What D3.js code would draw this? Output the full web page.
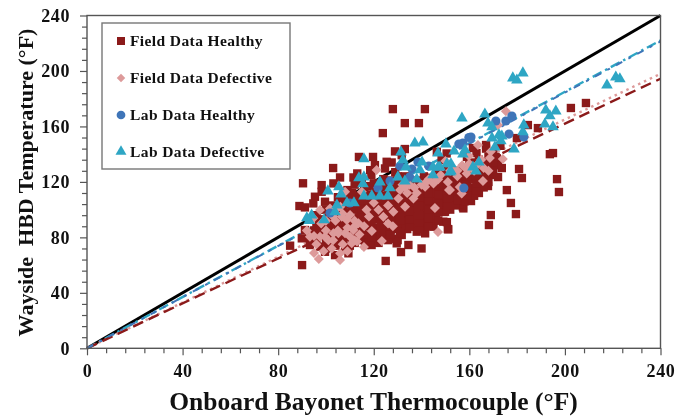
<!DOCTYPE html>
<html><head><meta charset="utf-8">
<script src="https://cdn.jsdelivr.net/npm/d3@7"></script>
<style>
html,body{margin:0;padding:0;background:#fff}
svg{display:block;filter:blur(0.35px)}
text{font-family:"Liberation Serif","Times New Roman",serif;font-weight:bold;fill:#111}
</style></head><body>
<svg id="c" width="694" height="417"></svg>
<script>
const majorTicks=[0,40,80,120,160,200,240];
const minorTicks=[8,16,24,32,48,56,64,72,88,96,104,112,128,136,144,152,168,176,184,192,208,216,224,232];
const xTitle="Onboard Bayonet Thermocouple (°F)";
const yTitle="Wayside\u00a0 HBD Temperature (°F)";
const legendNames=["Field Data Healthy","Field Data Defective","Lab Data Healthy","Lab Data Defective"];
const slopes=[1,0.925,0.825,0.81];
const fieldHealthy=[[202.5,173.3],[208.8,176.9],[184.5,161],[188.7,158.8],[179.9,151.6],[193.7,140],[195,140.8],[180.8,129.3],[182,122.8],[196.7,122],[197.5,112.7],[175.7,114.1],[177.4,104.8],[179.5,96.8],[169,96.1],[168.2,88.9],[173.6,130],
[128,172.5],[141.4,172.5],[133,162.4],[138.9,162.4],[123.8,155.2],[90.4,119],[103,130],[90,60],[125,63],[131.4,69.4],[140,72],[113.8,138],[119.7,138],[133,143.7],[128.9,142],
[98.2,117.7],[98.2,112.9],[105.9,123.2],[103.1,118.9],[111.5,123.2],[113.1,126.1],[109,114.1],[95.4,109.3],[94.7,104.5],[88.9,102.6],[91.2,101.6],[99.6,105.7],[118.5,128.5],[120.5,132.1],[124.7,129.7],[127.5,134],[125.4,134.5],[131.7,139.3],[146.4,141.7],[150.5,140.5],[148.4,135.7],[85,74],
[97.5,73.3],[99.6,69.6],[103.8,67.2],[109.4,68.5],[116.4,74.5],[119.1,74.5],[129.6,75.7],[134.5,74.5],[131.7,81.7],[136.6,87.7],[138,84.1],[141.5,82.9],[149.8,98.5],[149.1,91.3],[151.2,85.8],[157.5,100.9],[145,87.7],[89.9,79.3],[91.2,85.3],[93.3,74.5],
[161.5,144.4],[167,146.6],[163,140.8],[171.5,137],[168.6,125],[172,123.5],[167.8,117],[160.7,106.2],[157.3,101.9],[159.4,112],[152.7,104.8],[149.4,98.3],[150.6,91],[151,86],
[96,78],[95,85],[97,90],[96,96],[100,76],[101,83],[99,88],[101,94],[100,100],[104,74],[105,80],[103,85],[105,91],[104,97],[103,103],[105,109],
[108,72],[107,78],[109,84],[108,90],[109,96],[107,102],[108,108],[112,76],[113,83],[111,88],[113,94],[112,100],[113,106],[111,112],[112,118],
[116,79],[115,85],[117,91],[116,97],[115,103],[117,109],[116,115],[115,121],[120,78],[121,83],[119,89],[121,95],[120,101],[119,107],[121,113],[120,119],[119,125],
[124,80],[125,86],[123,92],[125,98],[124,104],[123,110],[125,116],[124,122],[128,79],[127,85],[129,91],[128,97],[127,103],[129,109],[128,115],[127,121],[129,127],
[132,88],[133,94],[131,100],[133,106],[132,112],[131,118],[133,124],[136,90],[135,96],[137,102],[136,108],[135,114],[137,120],
[140,88],[141,94],[139,100],[141,106],[140,112],[139,118],[141,124],[144,92],[145,98],[143,104],[145,110],[144,116],[143,122],
[148,102],[147,108],[149,114],[148,120],[147,126],[152,100],[153,106],[151,112],[153,118],[152,124],[151,130],[156,104],[155,110],[157,116],[156,122],[155,128],
[160,108],[161,114],[159,120],[161,126],[160,132],[159,138],[164,112],[165,118],[163,124],[165,130],[164,136],[168,120],[167,126],[169,132],[168,138],[167,144],[172,132],[171,138],[173,146],
[126,84],[118,93],[122,87],[114,80],[110,80],[106,87],[134,98],[138,106],[146,118],[150,120],[154,126],[158,124],[162,130],[166,134],[130,96],[142,108],
[98,81],[98,87],[98,93],[102,79],[102,86],[102,91],[102,98],[106,76],[106,83],[106,94],[106,100],[106,105],[110,74],[110,84],[110,91],[110,98],[110,104],[110,110],
[114,78],[114,86],[114,91],[114,98],[114,103],[114,110],[118,76],[118,82],[118,88],[118,98],[118,104],[118,111],[118,117],[122,76],[122,81],[122,93],[122,98],[122,105],[122,111],[122,116],
[126,78],[126,81],[126,95],[126,100],[126,106],[126,112],[126,118],[130,78],[130,86],[130,90],[130,101],[130,106],[130,112],[130,118],[130,124],
[134,86],[134,92],[134,103],[134,109],[134,115],[134,121],[138,92],[138,97],[138,101],[138,111],[138,116],[138,121],[142,90],[142,96],[142,102],[142,113],[142,118],[142,123],
[146,96],[146,101],[146,106],[146,112],[146,122],[150,100],[150,105],[150,110],[150,116],[150,125],[154,103],[154,109],[154,114],[154,120],[158,106],[158,112],[158,118],[158,129],[162,110],[162,116],[162,122],[162,134],[166,116],[166,122],[166,128],[170,128],[170,134],[170,142],
[100,72],[103,76],[107,81],[107,88],[111,78],[111,85],[111,93],[111,103],[115,82],[115,89],[115,95],[115,100],[115,107],[119,80],[119,85],[119,92],[119,99],[119,105],[119,110],[123,79],[123,84],[123,89],[123,96],[123,102],[123,107],[127,82],[127,88],[127,94],[127,100],[127,106],[127,112],[131,83],[131,92],[131,97],[131,103],[131,109],[131,115],[135,88],[135,93],[135,99],[135,105],[135,111],[135,117],[139,86],[139,91],[139,96],[139,103],[139,109],[139,114],[143,88],[143,94],[143,100],[143,107],[143,112],[147,92],[147,98],[147,104],[147,111],[147,117],[151,103],[151,108],[151,115],[151,121],[155,107],[155,113],[155,119],[155,125],[159,110],[159,116],[159,124],[163,114],[163,119],[163,128],[104,88],[100,90],[96,87],[93,80],[104,82]];
const fieldDefective=[[175.3,171],[97,64.4],[105.9,63.7],[95,68.7],[115.9,73],[123.4,77.4],[146.9,83.9],[145.6,101.2],[119.2,84.6],
[93.3,80.5],[97.5,80.5],[99.6,80.5],[103.1,82.9],[105.2,82.9],[102.4,72],[105.9,68.5],[110.8,75.7],[110.1,80.5],[111.5,85.3],[113.6,90.1],[108.7,92.5],[106.6,94.9],[110.1,96.1],[101.7,100.9],[97.5,99.7],[94.7,93.7],[124,94.9],[128.2,98.5],[133.1,102.1],[136.6,108.1],[131,114.1],[130.3,108.1],[141.5,116.5],[145,118.9],[151.9,114.1],[158.9,126.1],[156.8,111.7],[121.2,128.5],[108,112.9],[115,112.9],
[163.6,146.6],[168.6,137.2],[174,136.5],[159.8,138.7],[165.7,120.6],[156,116.3],[151.5,114.1],[172,161],[151,120],
[100,85],[104,92],[107,75],[114,82],[116,88],[118,95],[122,100],[126,90],[128,88],[120,105],[135,118],[138,112],[143,122],[148,125],[153,130],[150,135],[155,128],[160,133],[162,128],[96,75],[99,70],[101,78],[109,70],[112,78],[92,85],
[98,90],[103,95],[106,102],[100,92],[112,92],[109,87],[113,77],[117,100],[132,118],[134,112],[140,118],[147,122],[152,128],[157,132],[165,136],[169,142],[163,132],[168,128],
[95,81],[105,85],[103,78],[108,83],[112,88],[107,97],[104,100],[126,103],[133,116],[137,116],[142,120],[146,121],[155,124],[159,129],[166,130]];
const labHealthy=[[171.1,163.9],[175.3,163.9],[177.8,167.5],[176.6,154.5],[182.8,152.3],[160.7,152.3],[155.6,147.3],[157.3,148],[157.7,115.6],[159.8,152],[131,131.4],[136,129.3],[138.5,134.3],[143,131.4],[135,123.5],[126.8,120.6],[121.8,115.6],[110,104.8],[101.7,97.6]];
const labDefective=[[178.2,194.9],[179.9,193.4],[182.4,198.5],[217.6,189.8],[221.3,195.6],[223,194.2],[156.9,166],[166.5,168.9],[192,171.8],[196.2,171],[193.7,167.5],[191.6,161.7],[195,159.6],[182.8,161],[182.4,156],[178.7,143.7],[167.8,162.4],[169.5,159.6],[169.5,151.6],[172.4,153.8],[173.6,153],[173.2,149.5],[170.7,145.1],[150.2,147.3],[153.6,142.2],[157.3,140],[158.2,143],[164,134.3],[161.5,130.7],[162.8,127.8],[150.6,132.9],[152.3,132.9],[151.9,127.1],[147.7,130.7],
[137.2,148],[140.6,148.7],[115.9,136.5],[131.4,141.5],[132.2,135.8],[146.9,140.8],[140.2,134.3],[133.5,130.7],[139.3,128.6],[144.8,130.7],[146.9,130.7],[152.3,127.8],[144.8,125],[138,122],[130.1,123.5],[133,120.6],[113.8,122.8],[115.9,123.5],[115.5,118.5],[122.6,119.9],[126.8,115.6],[105.4,116.3],[100.8,113.4],[106.3,111.2],[115.9,109.8],[119.2,109.8],[122.6,109.8],[125.9,109.8],[108.8,104.8],[104.6,103.3],[111.7,104.8],[103.8,98.3],[99.2,92.5],[92,94],[94,96],[93,92]];

const svg=d3.select("#c");
const x=d3.scaleLinear().domain([0,240]).range([87,660.5]);
const y=d3.scaleLinear().domain([0,240]).range([348.3,15.5]);
const gray="#555";

const lineStyles=[
 {c:"#000",w:3,d:null},
 {c:"#2ea6c4",w:2.4,d:"10 4 2.5 4"},
 {c:"#dd9a9a",w:2.4,d:"2.5 4"},
 {c:"#8b1a1a",w:2.4,d:"11 6"}];
const ln=d3.line().x(d=>x(d[0])).y(d=>y(d[1]));
slopes.forEach((s,i)=>{
  const st=lineStyles[i];
  svg.append("path").attr("d",ln([[0,0],[240,240*s]])).attr("fill","none")
    .attr("stroke",st.c).attr("stroke-width",st.w).attr("stroke-dasharray",st.d);
});
svg.append("path").attr("d",ln([[0,0],[240,240*0.922]])).attr("fill","none")
  .attr("stroke","#3f75b8").attr("stroke-width",2).attr("stroke-dasharray","7 7 3 7");

svg.append("rect").attr("x",x(0)).attr("y",y(240)).attr("width",x(240)-x(0)).attr("height",y(0)-y(240))
  .attr("fill","none").attr("stroke",gray).attr("stroke-width",1.4);

const ax=svg.append("g").attr("transform",`translate(0,${y(0)})`);
ax.call(d3.axisBottom(x).tickValues(minorTicks).tickSize(5).tickFormat(""));
const ax2=svg.append("g").attr("transform",`translate(0,${y(0)})`);
ax2.call(d3.axisBottom(x).tickValues(majorTicks).tickSize(7).tickPadding(9));
const ay=svg.append("g").attr("transform",`translate(${x(0)},0)`);
ay.call(d3.axisLeft(y).tickValues(minorTicks).tickSize(5).tickFormat(""));
const ay2=svg.append("g").attr("transform",`translate(${x(0)},0)`);
ay2.call(d3.axisLeft(y).tickValues(majorTicks).tickSize(7).tickPadding(10));
[ax,ax2,ay,ay2].forEach(g=>{
  g.select(".domain").remove();
  g.selectAll("line").attr("stroke",gray).attr("stroke-width",1.2);
  g.selectAll("text").style("font-family",'"Liberation Serif",serif').style("font-weight","bold")
   .style("font-size","18px").style("letter-spacing","0.6px").attr("fill","#111");
});

const colors={h:"#8b1a1a",d:"#dd9a9a",lh:"#3f75b8",ld:"#2ea6c4"};
const sym=(type,size)=>d3.symbol().type(type).size(size)();
function plot(data,type,size,color,rot){
  svg.append("g").selectAll("path").data(data).join("path")
    .attr("d",sym(type,size))
    .attr("transform",d=>`translate(${x(d[0])},${y(d[1])}) rotate(${rot||0})`)
    .attr("fill",color);
}
plot(fieldHealthy,d3.symbolSquare,70,colors.h);
plot(fieldDefective,d3.symbolSquare,50,colors.d,45);
plot(labHealthy,d3.symbolCircle,66,colors.lh);
plot(labDefective,d3.symbolTriangle,58,colors.ld);

svg.append("rect").attr("x",102).attr("y",23).attr("width",188).attr("height",146)
  .attr("fill","#fff").attr("stroke","#777").attr("stroke-width",1.4);
const legendSym=[[d3.symbolSquare,64,colors.h,0],[d3.symbolSquare,36,colors.d,45],[d3.symbolCircle,60,colors.lh,0],[d3.symbolTriangle,52,colors.ld,0]];
const ly=[41,78,115,151.5];
legendNames.forEach((n,i)=>{
  svg.append("path").attr("d",sym(legendSym[i][0],legendSym[i][1]))
    .attr("transform",`translate(121,${ly[i]}) rotate(${legendSym[i][3]})`).attr("fill",legendSym[i][2]);
  svg.append("text").attr("x",130).attr("y",ly[i]+5).attr("font-size",15.5)
    .attr("letter-spacing",0.4).text(n);
});

svg.append("text").attr("x",373.5).attr("y",410).attr("text-anchor","middle")
  .attr("font-size",25.5).text(xTitle);
svg.append("text").attr("transform","translate(33,182.5) rotate(-90)").attr("text-anchor","middle")
  .attr("font-size",22).text(yTitle);
</script>
</body></html>
